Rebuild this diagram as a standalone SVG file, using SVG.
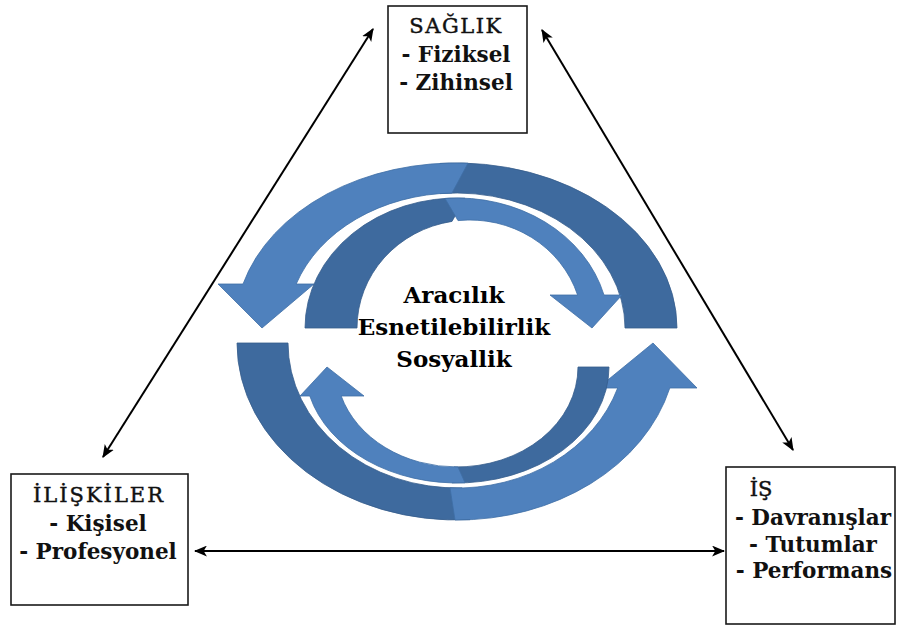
<svg xmlns="http://www.w3.org/2000/svg" width="898" height="626" viewBox="0 0 898 626">
  <style>
    .box { fill: #ffffff; stroke: #1a1a1a; stroke-width: 1.6; }
    .title { font-family: "DejaVu Serif", "Liberation Serif", serif; font-size: 21px; font-weight: normal; fill: #111; stroke: #111; stroke-width: 0.45; text-anchor: middle; }
    .item { font-family: "DejaVu Serif", "Liberation Serif", serif; font-size: 21.5px; font-weight: bold; fill: #111; text-anchor: middle; }
    .core { font-family: "DejaVu Serif", "Liberation Serif", serif; font-size: 23px; font-weight: bold; fill: #000; text-anchor: middle; }
    .front { fill: #4F81BD; stroke: #3F6FA6; stroke-width: 0.8; }
    .back { fill: #3E6A9E; stroke: #365D8C; stroke-width: 0.8; }
    .link { stroke: #000; stroke-width: 2; fill: none; marker-start: url(#tip); marker-end: url(#tip); }
  </style>
  <defs>
    <marker id="tip" viewBox="0 0 12 10" refX="11" refY="5" markerWidth="13" markerHeight="11" markerUnits="userSpaceOnUse" orient="auto-start-reverse">
      <path d="M0,0 L12,5 L0,10 L3,5 Z" fill="#000"/>
    </marker>
  </defs>

  <rect width="898" height="626" fill="#ffffff"/>

  <!-- cycle of four curved arrows around the core qualities -->
  <g id="cycle">
    <!-- outer upper arrow: tail on the right, head pointing down on the left -->
    <path class="back" d="M677,328 A221,165 0 0 0 440,163.4 L440,193.6 A169,135 0 0 1 625,328 Z"/>
    <path class="front" d="M218,284 L243,284 A221,165 0 0 1 468,163.2 L452,193 A169,135 0 0 0 296.2,284 L314,284 L262,328 Z"/>
    <!-- inner upper arrow: tail on the left, head pointing down on the right -->
    <path class="back" d="M305,328 A152,130 0 0 1 465,198.2 L452,221.4 A113,108 0 0 0 357,328 Z"/>
    <path class="front" d="M622,295 L604,295 A152,130 0 0 0 445,198.4 L458,220.6 A113,108 0 0 1 577.6,295 L550,295 L592,328 Z"/>
    <!-- outer lower arrow: tail on the left, head pointing up on the right -->
    <path class="back" d="M237,343 A220,177 0 0 0 470,519.7 L462,487.9 A169,145 0 0 1 288,343 Z"/>
    <path class="front" d="M697,388 L669.8,388 A220,177 0 0 1 455,520 L450,487.9 A169,145 0 0 0 617.7,388 L598,388 L653,343 Z"/>
    <!-- inner lower arrow: tail on the right, head pointing up on the left -->
    <path class="back" d="M609,367 A152,116 0 0 1 452,482.9 L454,466.9 A121,100 0 0 0 578,367 Z"/>
    <path class="front" d="M300,396 L309.8,396 A152,116 0 0 0 465,482.8 L458,467 A121,100 0 0 1 341.2,396 L364,396 L327,367 Z"/>
  </g>

  <g id="node-core">
    <text class="core" x="454" y="303">Aracılık</text>
    <text class="core" x="454" y="335">Esnetilebilirlik</text>
    <text class="core" x="454" y="367">Sosyallik</text>
  </g>

  <g id="connectors">
    <line class="link" x1="103" y1="457" x2="373" y2="29"/>
    <line class="link" x1="542" y1="30" x2="793" y2="450"/>
    <line class="link" x1="195" y1="551" x2="724" y2="551"/>
  </g>

  <g id="node-saglik">
    <rect class="box" x="388" y="6" width="139" height="127"/>
    <text class="title" x="456" y="33" letter-spacing="1.5">SAĞLIK</text>
    <text class="item" x="456" y="61.5">- Fiziksel</text>
    <text class="item" x="456" y="90">- Zihinsel</text>
  </g>

  <g id="node-iliskiler">
    <rect class="box" x="11" y="474" width="177" height="131"/>
    <text class="title" x="99" y="502" letter-spacing="2">İLİŞKİLER</text>
    <text class="item" x="98" y="531">- Kişisel</text>
    <text class="item" x="98" y="559">- Profesyonel</text>
  </g>

  <g id="node-is">
    <rect class="box" x="726" y="467" width="169" height="157"/>
    <text class="title" x="761" y="496">İŞ</text>
    <text class="item" x="813" y="525">- Davranışlar</text>
    <text class="item" x="813" y="552">- Tutumlar</text>
    <text class="item" x="814" y="578">- Performans</text>
  </g>
</svg>
